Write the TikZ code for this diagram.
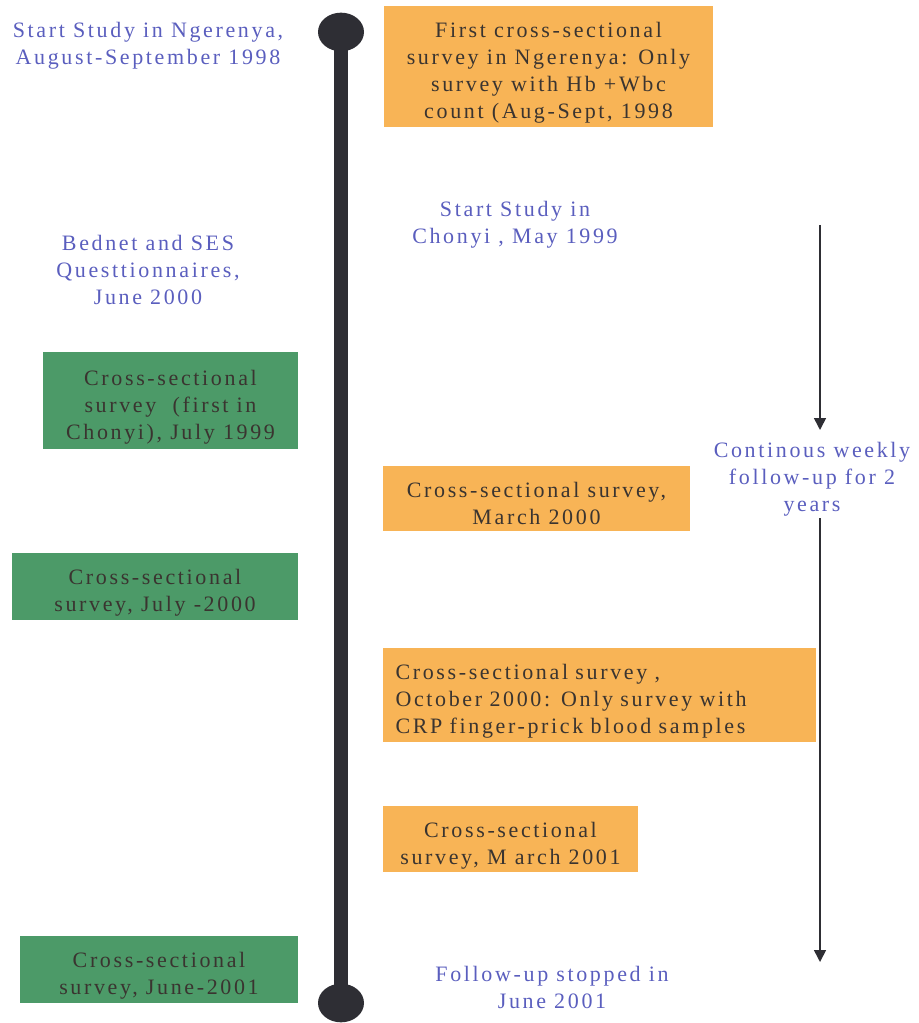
\documentclass[tikz,border=0pt]{standalone}
\usepackage{fontspec}
\setmainfont{Liberation Serif}[LetterSpace=12]
\usetikzlibrary{arrows.meta,shapes.geometric}
\definecolor{boxorange}{HTML}{F8B456}
\definecolor{boxgreen}{HTML}{4C9A68}
\definecolor{bluetext}{HTML}{5A5EBE}
\definecolor{darktext}{HTML}{3A3430}
\definecolor{lineclr}{HTML}{2E2E34}
\newcommand{\toppad}{\rule{0pt}{21pt}}
\newcommand{\botpad}{\rule[-2.5pt]{0pt}{0pt}}
\tikzset{
  base/.style={inner sep=0pt, font=\fontsize{16.5}{20.3}\selectfont, align=center},
  obox/.style={base, fill=boxorange, text=darktext},
  gbox/.style={base, fill=boxgreen, text=darktext},
  btext/.style={base, text=bluetext},
  knob/.style={fill=lineclr, ellipse, minimum width=34.5pt, minimum height=29pt, inner sep=0pt},
  flow/.style={draw=lineclr, line width=1.2pt, -{Triangle[length=9pt,width=9pt]}}
}
\begin{document}
\begin{tikzpicture}[x=0.75pt,y=-0.75pt]
\useasboundingbox (0,0) rectangle (918,1023);
% timeline
\node[knob] (ttop) at (341,32) {};
\node[knob] (tbot) at (341,1003) {};
\draw[lineclr, line width=11pt] (ttop.center) -- (tbot.center);
% left column
\node[btext] (s1) at (148,39) {\toppad Start Study in Ngerenya,\\August-September 1998\botpad};
\node[btext] (bed) at (148,265) {\toppad Bednet and SES\\Questtionnaires,\\June 2000\botpad};
\node[gbox, minimum width=191.25pt, minimum height=72.75pt] (g1) at (170.5,400.5) {\toppad Cross-sectional\\survey\ \ (first in\\Chonyi), July 1999\botpad};
\node[gbox, minimum width=214.5pt, minimum height=50.25pt] (g2) at (155,586.5) {\toppad Cross-sectional\\survey, July -2000\botpad};
\node[gbox, minimum width=208.5pt, minimum height=50.25pt] (g3) at (159,969.5) {\toppad Cross-sectional\\survey,\ June-2001\botpad};
% right column
\node[obox, minimum width=246.75pt, minimum height=90.75pt] (o1) at (548.5,66.5) {\toppad First cross-sectional\\survey in Ngerenya: Only\\survey with Hb +Wbc\\count (Aug-Sept, 1998\botpad};
\node[btext] (chon) at (515,218) {\toppad Start Study in\\Chonyi , May 1999\botpad};
\node[obox, minimum width=230.25pt, minimum height=48.75pt] (o2) at (536.5,498.5) {\toppad Cross-sectional survey,\\March 2000\botpad};
\node[obox, minimum width=324.75pt, minimum height=70.5pt, align=left, text width=306pt] (o3) at (599.5,695) {\toppad Cross-sectional survey ,\\October 2000: Only survey with\\CRP finger-prick blood samples\botpad};
\node[obox, minimum width=191.25pt, minimum height=49.5pt] (o4) at (510.5,839) {\toppad Cross-sectional\\survey, M arch 2001\botpad};
\node[btext] (stop) at (552,983) {\toppad Follow-up stopped in\\June 2001\botpad};
% follow-up arrows
\node[btext] (cont) at (812,473) {\toppad Continous weekly\\follow-up for 2\\years\botpad};
\coordinate (a0) at (820,225);
\coordinate (a1) at (820,430);
\coordinate (b0) at (820,518);
\coordinate (b1) at (820,962);
\draw[flow] (a0) -- (a1);
\draw[flow] (b0) -- (b1);
\end{tikzpicture}
\end{document}
